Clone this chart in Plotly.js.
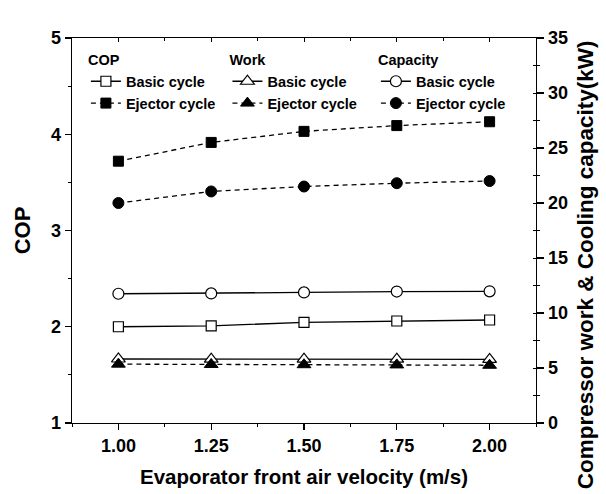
<!DOCTYPE html>
<html>
<head>
<meta charset="utf-8">
<script src="https://cdn.plot.ly/plotly-3.0.1.min.js"></script>
<style>html,body{margin:0;padding:0;background:#fff;}#chart{width:606px;height:494px;}</style>
</head>
<body>
<div id="chart"></div>
<script>
// Evaporator front air velocity (m/s)
const velocity = [1.00, 1.25, 1.50, 1.75, 2.00];
const xTickVals = [1.00, 1.25, 1.50, 1.75, 2.00];
const xTickText = ['1.00', '1.25', '1.50', '1.75', '2.00'];
// COP (left axis)
const copBasic = [2.00, 2.01, 2.045, 2.06, 2.07];
const copEjector = [3.72, 3.915, 4.03, 4.09, 4.13];
// Compressor work (kW, right axis)
const workBasic = [5.82, 5.80, 5.80, 5.80, 5.78];
const workEjector = [5.35, 5.32, 5.30, 5.28, 5.25];
// Cooling capacity (kW, right axis)
const capBasic = [11.75, 11.78, 11.87, 11.95, 11.97];
const capEjector = [20.0, 21.05, 21.5, 21.8, 22.0];

const FONT = 'Liberation Sans, Arial, sans-serif';
const solid = {color: '#000', width: 1.3, dash: 'solid'};
const dashed = {color: '#000', width: 1.3, dash: '5px,4px'};
function openM(sym, size) { return {symbol: sym, size: size, color: '#fff', line: {color: '#000', width: 1.2}}; }
function fillM(sym, size) { return {symbol: sym, size: size, color: '#000', line: {color: '#000', width: 1}}; }

const traces = [
  {x: velocity, y: copBasic, name: 'Basic cycle', mode: 'lines+markers', line: solid, marker: openM('square', 10), yaxis: 'y', legend: 'legend'},
  {x: velocity, y: copEjector, name: 'Ejector cycle', mode: 'lines+markers', line: dashed, marker: fillM('square', 10), yaxis: 'y', legend: 'legend'},
  {x: velocity, y: workBasic, name: 'Basic cycle', mode: 'lines+markers', line: solid, marker: openM('triangle-up', 12), yaxis: 'y2', legend: 'legend2'},
  {x: velocity, y: workEjector, name: 'Ejector cycle', mode: 'lines+markers', line: dashed, marker: fillM('triangle-up', 12), yaxis: 'y2', legend: 'legend2'},
  {x: velocity, y: capBasic, name: 'Basic cycle', mode: 'lines+markers', line: solid, marker: openM('circle', 11), yaxis: 'y2', legend: 'legend3'},
  {x: velocity, y: capEjector, name: 'Ejector cycle', mode: 'lines+markers', line: dashed, marker: fillM('circle', 11), yaxis: 'y2', legend: 'legend3'},
  // helper (empty) traces so the inner-tick overlay axes exist
  {x: [], y: [], xaxis: 'x2', yaxis: 'y', showlegend: false, hoverinfo: 'skip'},
  {x: [], y: [], xaxis: 'x', yaxis: 'y3', showlegend: false, hoverinfo: 'skip'}
];

const tickFont = {family: FONT, size: 18, color: '#000', weight: 'bold'};
const legFont = {family: FONT, size: 14.5, color: '#000', weight: 'bold'};
function legend(x, title) {
  return {x: x, y: 0.978, xanchor: 'left', yanchor: 'top', bgcolor: 'rgba(0,0,0,0)', borderwidth: 0,
    font: legFont, title: {text: title, font: legFont}, itemwidth: 30, tracegroupgap: 0, traceorder: 'normal'};
}

const layout = {
  width: 606, height: 494,
  margin: {l: 72, r: 70, t: 38, b: 71, pad: 0},
  paper_bgcolor: '#fff', plot_bgcolor: '#fff',
  font: {family: FONT, color: '#000'},
  showlegend: true,
  xaxis: {
    range: [0.875, 2.125], tickvals: xTickVals, ticktext: xTickText,
    ticks: 'outside', ticklen: 6, tickwidth: 1.2, tickcolor: '#000',
    minor: {tickvals: [0.875, 1.125, 1.375, 1.625, 1.875, 2.125], ticks: 'outside', ticklen: 3, tickwidth: 1, tickcolor: '#000'},
    showline: true, linecolor: '#000', linewidth: 1.3, showgrid: false, zeroline: false,
    tickfont: tickFont,
    title: {text: 'Evaporator front air velocity (m/s)', font: {family: FONT, size: 20.5, color: '#000', weight: 'bold'}, standoff: 14}
  },
  xaxis2: {
    overlaying: 'x', side: 'top', anchor: 'y', range: [0.875, 2.125], tickvals: xTickVals,
    ticks: 'inside', ticklen: 4, tickwidth: 1, tickcolor: '#000', showticklabels: false,
    minor: {tickvals: [1.125, 1.375, 1.625, 1.875], ticks: 'inside', ticklen: 3, tickwidth: 1, tickcolor: '#000'},
    showline: true, linecolor: '#000', linewidth: 1.3, showgrid: false, zeroline: false
  },
  yaxis: {
    range: [1, 5], dtick: 1, tick0: 1,
    ticks: 'outside', ticklen: 6, tickwidth: 1.2, tickcolor: '#000',
    minor: {dtick: 0.5, ticks: 'outside', ticklen: 3, tickwidth: 1, tickcolor: '#000'},
    showline: true, linecolor: '#000', linewidth: 1.3, showgrid: false, zeroline: false,
    tickfont: tickFont,
    title: {text: 'COP', font: {family: FONT, size: 22, color: '#000', weight: 'bold'}, standoff: 14}
  },
  yaxis2: {
    overlaying: 'y', side: 'right', anchor: 'x', range: [0, 35], dtick: 5, tick0: 0,
    ticks: 'outside', ticklen: 7, tickwidth: 1.2, tickcolor: '#000',
    minor: {dtick: 2.5, ticks: 'outside', ticklen: 3, tickwidth: 1, tickcolor: '#000'},
    showline: true, linecolor: '#000', linewidth: 1.3, showgrid: false, zeroline: false,
    tickfont: tickFont
  },
  yaxis3: {
    overlaying: 'y', side: 'right', anchor: 'x', range: [0, 35], dtick: 2.5, tick0: 0,
    ticks: 'inside', ticklen: 3, tickwidth: 1, tickcolor: '#000', showticklabels: false,
    showline: false, showgrid: false, zeroline: false
  },
  legend: legend(0.03, 'COP'),
  legend2: legend(0.335, 'Work'),
  legend3: legend(0.655, 'Capacity'),
  annotations: [{
    text: 'Compressor work & Cooling capacity(kW)', textangle: -90,
    xref: 'paper', yref: 'paper', x: 1.106, y: 0.41, xanchor: 'center', yanchor: 'middle',
    showarrow: false, font: {family: FONT, size: 22.5, color: '#000', weight: 'bold'}
  }]
};

Plotly.newPlot('chart', traces, layout, {displayModeBar: false, staticPlot: true});
</script>
</body>
</html>
